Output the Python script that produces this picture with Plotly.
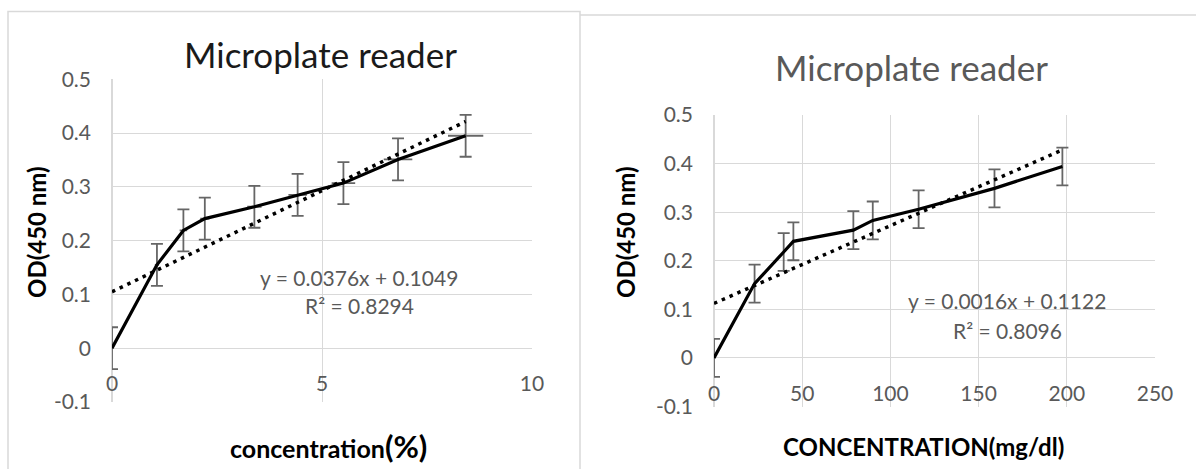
import numpy as np
import plotly.graph_objects as go

# ---------------- data ----------------
conc_pct = [0, 1.07, 1.70, 2.21, 3.39, 4.42, 5.51, 6.81, 8.42]
conc_pct_err = [0, 0.05, 0.09, 0.11, 0.17, 0.22, 0.28, 0.34, 0.42]
od_left = [0, 0.155, 0.219, 0.241, 0.263, 0.285, 0.307, 0.351, 0.395]
od_left_err = [0.039] * 9

conc_mg = [0, 23, 39.5, 45, 79, 90, 116, 159, 197.5]
od_right = [0, 0.153, 0.218, 0.240, 0.263, 0.283, 0.306, 0.349, 0.394]
od_right_err = [0.039] * 9

left_fit = (0.0376, 0.1049)
right_fit = (0.0016, 0.1122)
left_eq = ["y = 0.0376x + 0.1049", "R² = 0.8294"]
right_eq = ["y = 0.0016x + 0.1122", "R² = 0.8096"]

y_tickvals = [-0.1, 0, 0.1, 0.2, 0.3, 0.4, 0.5]
y_ticktext = ["-0.1", "0", "0.1", "0.2", "0.3", "0.4", "0.5"]
left_xticks = [0, 5, 10]
right_xticks = [0, 50, 100, 150, 200, 250]

title_text = "Microplate reader"
ytitle = "OD(450 nm)"

# ---------------- style ----------------
W, H = 1196, 469
FONT = "Lato"
GRAY = "#595959"
GRID = "#d9d9d9"
ERR = "#666666"

def px(x):
    return x / W

def py(y):
    return 1 - y / H

fig = go.Figure()

# left chart
fig.add_trace(go.Scatter(
    x=conc_pct, y=od_left, mode="lines", xaxis="x", yaxis="y",
    line=dict(color="black", width=3.2),
    error_y=dict(type="data", array=od_left_err, color=ERR, thickness=1.8, width=6),
    error_x=dict(type="data", array=conc_pct_err, color=ERR, thickness=1.8, width=0),
    showlegend=False, hoverinfo="skip"))
lx = np.array([0, max(conc_pct)])
fig.add_trace(go.Scatter(
    x=lx, y=left_fit[0] * lx + left_fit[1], mode="lines", xaxis="x", yaxis="y",
    line=dict(color="black", width=3.5, dash="3.5px,5px"),
    showlegend=False, hoverinfo="skip"))

# right chart
fig.add_trace(go.Scatter(
    x=conc_mg, y=od_right, mode="lines", xaxis="x2", yaxis="y2",
    line=dict(color="black", width=3.2),
    error_y=dict(type="data", array=od_right_err, color=ERR, thickness=1.8, width=6),
    showlegend=False, hoverinfo="skip"))
rx = np.array([0, max(conc_mg)])
fig.add_trace(go.Scatter(
    x=rx, y=right_fit[0] * rx + right_fit[1], mode="lines", xaxis="x2", yaxis="y2",
    line=dict(color="black", width=3.5, dash="3.5px,5px"),
    showlegend=False, hoverinfo="skip"))

# domains
L_x = [px(112), px(532)]
L_y = [py(402), py(79.3)]
R_x = [px(714), px(1155)]
R_y = [py(406.5), py(115)]

def zero_pos(dom):
    return dom[0] + (0.1 / 0.6) * (dom[1] - dom[0])

tickfont = dict(family=FONT, size=21, color=GRAY)

yax = dict(range=[-0.1, 0.5], tickvals=y_tickvals, ticktext=y_ticktext,
           showgrid=True, gridcolor=GRID, gridwidth=1, zeroline=True,
           zerolinecolor=GRID, zerolinewidth=1, showline=False, automargin=False,
           tickfont=tickfont, ticks="", ticklabelstandoff=20, fixedrange=True)
xax = dict(showgrid=True, gridcolor=GRID, zeroline=True, zerolinecolor=GRID,
           showline=False, ticks="", tickfont=tickfont, ticklabelstandoff=21,
           automargin=False, anchor="free", fixedrange=True)

fig.update_layout(
    width=W, height=H, margin=dict(l=0, r=0, t=0, b=0, autoexpand=False),
    paper_bgcolor="white", plot_bgcolor="white",
    font=dict(family=FONT, color=GRAY),
    xaxis=dict(domain=L_x, range=[0, 10], tickvals=left_xticks,
               position=zero_pos(L_y), **xax),
    yaxis=dict(domain=L_y, anchor="x", **yax),
    xaxis2=dict(domain=R_x, range=[0, 250], tickvals=right_xticks,
                position=zero_pos(R_y), **xax),
    yaxis2=dict(domain=R_y, anchor="x2", **yax),
)

ann = []
# chart titles
ann.append(dict(text=title_text, x=px(320), y=py(54), xref="paper", yref="paper",
                showarrow=False, font=dict(family=FONT, size=35, color="#1a1a1a"),
                xanchor="center", yanchor="middle"))
ann.append(dict(text=title_text, x=px(911), y=py(67), xref="paper", yref="paper",
                showarrow=False, font=dict(family=FONT, size=35, color=GRAY),
                xanchor="center", yanchor="middle"))
# axis titles
ann.append(dict(text="<b>concentration<span style='font-size:31px'>(%)</span></b>",
                x=px(328), y=py(446), xref="paper", yref="paper", showarrow=False,
                font=dict(family=FONT, size=25, color="black"),
                xanchor="center", yanchor="middle"))
ann.append(dict(text="<b>CONCENTRATION(mg/dl)</b>",
                x=px(923), y=py(446), xref="paper", yref="paper", showarrow=False,
                font=dict(family=FONT, size=24, color="black"),
                xanchor="center", yanchor="middle"))
for xc in (36, 625):
    ann.append(dict(text="<b>" + ytitle + "</b>", x=px(xc), y=py(232),
                    xref="paper", yref="paper", showarrow=False, textangle=-90,
                    font=dict(family=FONT, size=24, color="black"),
                    xanchor="center", yanchor="middle"))
# equations
for txt, yy in zip(left_eq, (277, 305)):
    ann.append(dict(text=txt, x=px(359), y=py(yy), xref="paper", yref="paper",
                    showarrow=False, font=dict(family=FONT, size=21, color=GRAY),
                    xanchor="center", yanchor="middle"))
for txt, yy in zip(right_eq, (300, 330)):
    ann.append(dict(text=txt, x=px(1007), y=py(yy), xref="paper", yref="paper",
                    showarrow=False, font=dict(family=FONT, size=21, color=GRAY),
                    xanchor="center", yanchor="middle"))
fig.update_layout(annotations=ann)

# chart borders
fig.update_layout(shapes=[
    dict(type="rect", xref="paper", yref="paper", x0=px(8), x1=px(580),
         y0=py(475), y1=py(11.5), line=dict(color=GRID, width=1.5), layer="below"),
    dict(type="line", xref="paper", yref="paper", x0=px(580), x1=1,
         y0=py(15), y1=py(15), line=dict(color=GRID, width=1.5), layer="below"),
])

fig.write_html("out.html", config={"displayModeBar": False},
               post_script="document.body.style.margin='0';document.body.style.overflow='hidden';")
